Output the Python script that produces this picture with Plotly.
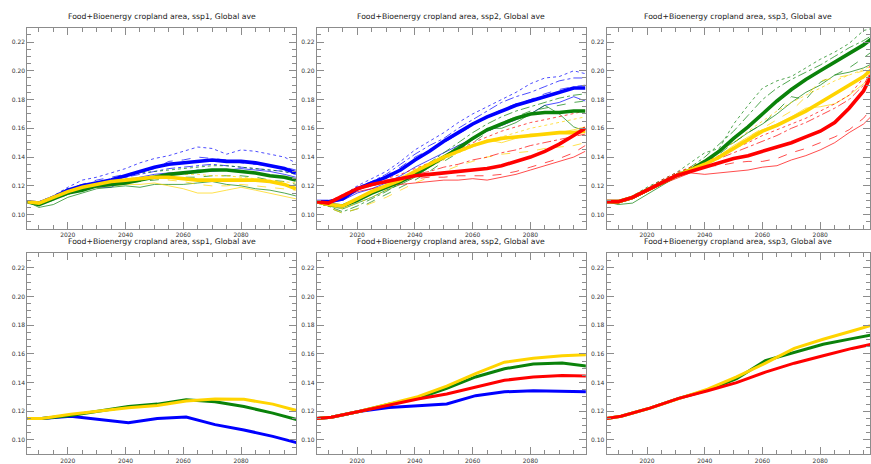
import plotly.graph_objects as go

# ---------------- data ----------------
YEARS = [2006, 2010, 2015, 2020, 2025, 2030, 2035, 2040, 2045, 2050,
         2055, 2060, 2065, 2070, 2075, 2080, 2085, 2090, 2095, 2099]
DECADES = [2006, 2011, 2021, 2031, 2041, 2051, 2061, 2071, 2081, 2091, 2101]

TITLES = ["Food+Bioenergy cropland area, ssp1, Global ave",
          "Food+Bioenergy cropland area, ssp2, Global ave",
          "Food+Bioenergy cropland area, ssp3, Global ave"]

# ssp1 ensemble (top row)
ssp1_blue_thick = [0.109, 0.108, 0.112, 0.117, 0.120, 0.122, 0.124, 0.127, 0.130, 0.133, 0.135, 0.136, 0.137, 0.138, 0.137, 0.137, 0.136, 0.134, 0.132, 0.129]
ssp1_blue_solid = [0.109, 0.108, 0.111, 0.116, 0.118, 0.119, 0.119, 0.124, 0.126, 0.128, 0.129, 0.129, 0.131, 0.130, 0.131, 0.132, 0.131, 0.130, 0.128, 0.126]
ssp1_blue_dash = [0.109, 0.108, 0.112, 0.118, 0.121, 0.124, 0.126, 0.128, 0.130, 0.132, 0.137, 0.138, 0.140, 0.139, 0.138, 0.136, 0.135, 0.134, 0.133, 0.131]
ssp1_blue_dashdot = [0.109, 0.108, 0.112, 0.117, 0.119, 0.121, 0.123, 0.126, 0.128, 0.130, 0.132, 0.133, 0.134, 0.135, 0.134, 0.133, 0.132, 0.131, 0.130, 0.128]
ssp1_blue_dot = [0.109, 0.109, 0.113, 0.119, 0.124, 0.126, 0.129, 0.132, 0.136, 0.139, 0.141, 0.144, 0.147, 0.146, 0.142, 0.145, 0.144, 0.142, 0.140, 0.136]
ssp1_green_thick = [0.109, 0.107, 0.111, 0.115, 0.117, 0.120, 0.121, 0.122, 0.124, 0.126, 0.128, 0.129, 0.130, 0.131, 0.131, 0.130, 0.129, 0.127, 0.126, 0.124]
ssp1_green_solid = [0.109, 0.105, 0.107, 0.112, 0.115, 0.118, 0.119, 0.120, 0.119, 0.121, 0.121, 0.121, 0.122, 0.123, 0.121, 0.120, 0.118, 0.117, 0.115, 0.113]
ssp1_green_dash = [0.109, 0.107, 0.110, 0.114, 0.117, 0.119, 0.121, 0.122, 0.123, 0.124, 0.125, 0.126, 0.126, 0.127, 0.127, 0.127, 0.126, 0.124, 0.123, 0.121]
ssp1_green_dot = [0.109, 0.108, 0.113, 0.118, 0.120, 0.122, 0.125, 0.127, 0.129, 0.130, 0.131, 0.132, 0.133, 0.134, 0.134, 0.133, 0.132, 0.131, 0.130, 0.128]
ssp1_yellow_thick = [0.109, 0.108, 0.112, 0.116, 0.119, 0.121, 0.123, 0.124, 0.125, 0.126, 0.126, 0.125, 0.124, 0.124, 0.124, 0.124, 0.124, 0.123, 0.121, 0.118]
ssp1_yellow_solid = [0.109, 0.108, 0.112, 0.116, 0.118, 0.119, 0.120, 0.121, 0.121, 0.122, 0.120, 0.118, 0.115, 0.115, 0.117, 0.119, 0.117, 0.115, 0.113, 0.111]
ssp1_yellow_dash = [0.109, 0.108, 0.112, 0.116, 0.119, 0.121, 0.122, 0.123, 0.124, 0.125, 0.124, 0.123, 0.121, 0.120, 0.120, 0.121, 0.120, 0.119, 0.118, 0.117]
ssp1_yellow_dot = [0.109, 0.108, 0.113, 0.117, 0.120, 0.122, 0.124, 0.125, 0.126, 0.127, 0.128, 0.128, 0.128, 0.127, 0.127, 0.126, 0.125, 0.124, 0.123, 0.122]

# ssp2 ensemble
ssp2_blue_thick = [0.109, 0.109, 0.111, 0.118, 0.122, 0.126, 0.131, 0.138, 0.144, 0.151, 0.157, 0.163, 0.168, 0.172, 0.176, 0.179, 0.182, 0.185, 0.188, 0.188]
ssp2_blue_solid = [0.109, 0.108, 0.110, 0.115, 0.118, 0.122, 0.127, 0.133, 0.138, 0.143, 0.148, 0.153, 0.158, 0.162, 0.166, 0.170, 0.176, 0.178, 0.182, 0.179]
ssp2_blue_dash = [0.109, 0.109, 0.112, 0.118, 0.122, 0.127, 0.133, 0.140, 0.145, 0.150, 0.156, 0.162, 0.168, 0.173, 0.177, 0.180, 0.184, 0.187, 0.189, 0.190]
ssp2_blue_dashdot = [0.109, 0.109, 0.112, 0.119, 0.123, 0.128, 0.135, 0.142, 0.148, 0.153, 0.160, 0.166, 0.172, 0.178, 0.182, 0.185, 0.189, 0.193, 0.195, 0.195]
ssp2_blue_dot = [0.109, 0.109, 0.113, 0.120, 0.125, 0.130, 0.137, 0.145, 0.151, 0.157, 0.164, 0.170, 0.175, 0.180, 0.185, 0.191, 0.195, 0.196, 0.200, 0.198]
ssp2_green_thick = [0.109, 0.107, 0.106, 0.110, 0.115, 0.119, 0.123, 0.128, 0.134, 0.140, 0.146, 0.153, 0.159, 0.163, 0.167, 0.170, 0.171, 0.171, 0.172, 0.172]
ssp2_green_solid = [0.109, 0.106, 0.104, 0.108, 0.112, 0.117, 0.121, 0.126, 0.133, 0.140, 0.148, 0.152, 0.160, 0.160, 0.164, 0.170, 0.176, 0.170, 0.161, 0.158]
ssp2_green_dash = [0.109, 0.105, 0.101, 0.104, 0.109, 0.114, 0.119, 0.124, 0.130, 0.137, 0.143, 0.150, 0.157, 0.164, 0.168, 0.172, 0.174, 0.176, 0.178, 0.179]
ssp2_green_dashdot = [0.109, 0.106, 0.102, 0.106, 0.111, 0.116, 0.122, 0.129, 0.136, 0.143, 0.150, 0.157, 0.163, 0.168, 0.172, 0.175, 0.178, 0.181, 0.183, 0.184]
ssp2_yellow_thick = [0.109, 0.107, 0.106, 0.111, 0.116, 0.120, 0.124, 0.130, 0.135, 0.140, 0.144, 0.148, 0.151, 0.153, 0.154, 0.155, 0.156, 0.157, 0.157, 0.158]
ssp2_yellow_solid = [0.109, 0.107, 0.107, 0.112, 0.117, 0.121, 0.126, 0.131, 0.136, 0.141, 0.145, 0.148, 0.152, 0.150, 0.153, 0.156, 0.156, 0.157, 0.159, 0.161]
ssp2_yellow_dash = [0.109, 0.105, 0.101, 0.104, 0.108, 0.112, 0.117, 0.122, 0.126, 0.130, 0.134, 0.137, 0.140, 0.142, 0.143, 0.144, 0.146, 0.147, 0.148, 0.150]
ssp2_yellow_dot = [0.109, 0.106, 0.104, 0.108, 0.112, 0.117, 0.122, 0.127, 0.133, 0.138, 0.143, 0.147, 0.151, 0.154, 0.157, 0.160, 0.162, 0.164, 0.166, 0.168]
ssp2_red_thick = [0.109, 0.108, 0.113, 0.118, 0.121, 0.123, 0.125, 0.127, 0.128, 0.129, 0.130, 0.131, 0.132, 0.134, 0.137, 0.140, 0.144, 0.149, 0.155, 0.160]
ssp2_red_solid = [0.109, 0.108, 0.112, 0.116, 0.118, 0.120, 0.121, 0.122, 0.123, 0.124, 0.124, 0.125, 0.124, 0.126, 0.128, 0.131, 0.134, 0.137, 0.140, 0.144]
ssp2_red_dash = [0.109, 0.108, 0.112, 0.117, 0.120, 0.122, 0.124, 0.125, 0.126, 0.126, 0.127, 0.127, 0.127, 0.128, 0.130, 0.133, 0.136, 0.139, 0.143, 0.148]
ssp2_red_dashdot = [0.109, 0.109, 0.113, 0.118, 0.121, 0.124, 0.126, 0.128, 0.130, 0.133, 0.135, 0.138, 0.140, 0.143, 0.145, 0.148, 0.150, 0.152, 0.154, 0.156]
ssp2_red_dot = [0.109, 0.109, 0.114, 0.119, 0.122, 0.125, 0.128, 0.132, 0.136, 0.140, 0.145, 0.150, 0.154, 0.158, 0.161, 0.164, 0.166, 0.168, 0.170, 0.172]

# ssp3 ensemble
ssp3_red_thick = [0.109, 0.109, 0.112, 0.117, 0.122, 0.127, 0.130, 0.133, 0.136, 0.139, 0.141, 0.144, 0.147, 0.150, 0.154, 0.158, 0.164, 0.174, 0.186, 0.202]
ssp3_red_solid = [0.109, 0.108, 0.111, 0.116, 0.121, 0.125, 0.129, 0.128, 0.129, 0.130, 0.131, 0.133, 0.134, 0.138, 0.141, 0.145, 0.150, 0.157, 0.163, 0.171]
ssp3_red_dash = [0.109, 0.109, 0.112, 0.117, 0.122, 0.127, 0.131, 0.134, 0.134, 0.136, 0.137, 0.137, 0.139, 0.143, 0.146, 0.150, 0.154, 0.159, 0.167, 0.177]
ssp3_red_dashdot = [0.109, 0.109, 0.112, 0.118, 0.123, 0.128, 0.132, 0.135, 0.139, 0.143, 0.147, 0.151, 0.155, 0.160, 0.164, 0.169, 0.174, 0.180, 0.190, 0.205]
ssp3_red_dot = [0.109, 0.109, 0.113, 0.118, 0.124, 0.129, 0.133, 0.137, 0.141, 0.146, 0.150, 0.155, 0.159, 0.163, 0.167, 0.172, 0.177, 0.183, 0.195, 0.210]
ssp3_green_thick = [0.109, 0.109, 0.112, 0.117, 0.122, 0.127, 0.131, 0.137, 0.144, 0.153, 0.161, 0.170, 0.179, 0.187, 0.194, 0.200, 0.206, 0.212, 0.218, 0.224]
ssp3_green_solid = [0.109, 0.107, 0.108, 0.114, 0.120, 0.126, 0.131, 0.137, 0.145, 0.150, 0.157, 0.163, 0.170, 0.178, 0.185, 0.190, 0.197, 0.199, 0.202, 0.206]
ssp3_green_dash = [0.109, 0.108, 0.111, 0.116, 0.121, 0.126, 0.130, 0.135, 0.142, 0.150, 0.157, 0.163, 0.172, 0.182, 0.180, 0.192, 0.197, 0.202, 0.209, 0.215]
ssp3_green_dashdot = [0.109, 0.109, 0.112, 0.118, 0.123, 0.128, 0.133, 0.140, 0.149, 0.158, 0.169, 0.180, 0.188, 0.194, 0.199, 0.204, 0.210, 0.216, 0.221, 0.226]
ssp3_green_dot = [0.109, 0.109, 0.113, 0.119, 0.124, 0.129, 0.136, 0.143, 0.146, 0.163, 0.176, 0.188, 0.193, 0.196, 0.202, 0.208, 0.213, 0.219, 0.228, 0.230]
ssp3_yellow_thick = [0.109, 0.109, 0.112, 0.117, 0.122, 0.127, 0.131, 0.135, 0.140, 0.146, 0.152, 0.158, 0.162, 0.167, 0.172, 0.178, 0.184, 0.190, 0.196, 0.203]
ssp3_yellow_solid = [0.109, 0.108, 0.111, 0.116, 0.121, 0.126, 0.130, 0.134, 0.141, 0.148, 0.154, 0.159, 0.163, 0.168, 0.174, 0.175, 0.177, 0.183, 0.191, 0.198]
ssp3_yellow_dash = [0.109, 0.108, 0.112, 0.117, 0.122, 0.127, 0.131, 0.135, 0.141, 0.147, 0.154, 0.160, 0.166, 0.172, 0.182, 0.193, 0.195, 0.197, 0.200, 0.203]
ssp3_yellow_dot = [0.109, 0.109, 0.113, 0.118, 0.123, 0.128, 0.133, 0.138, 0.144, 0.150, 0.158, 0.165, 0.172, 0.178, 0.183, 0.188, 0.193, 0.197, 0.201, 0.205]

# decadal model output (bottom row)
dec_ssp1_blue = [0.115, 0.115, 0.1165, 0.114, 0.112, 0.115, 0.116, 0.1107, 0.107, 0.1025, 0.0972]
dec_ssp1_green = [0.115, 0.115, 0.117, 0.120, 0.1233, 0.125, 0.128, 0.1267, 0.1233, 0.1187, 0.1133]
dec_ssp1_yellow = [0.115, 0.115, 0.118, 0.1203, 0.1224, 0.124, 0.1272, 0.1286, 0.1283, 0.125, 0.1196]
dec_ssp2_blue = [0.115, 0.1158, 0.120, 0.1226, 0.1238, 0.1251, 0.1309, 0.1336, 0.1343, 0.134, 0.1335]
dec_ssp2_green = [0.115, 0.1158, 0.120, 0.1250, 0.129, 0.1359, 0.1439, 0.1496, 0.153, 0.1537, 0.1510]
dec_ssp2_yellow = [0.115, 0.1158, 0.120, 0.1250, 0.1302, 0.1375, 0.1462, 0.1542, 0.1569, 0.1587, 0.1595]
dec_ssp2_red = [0.115, 0.1158, 0.120, 0.1245, 0.1286, 0.132, 0.1366, 0.1416, 0.1439, 0.145, 0.1445]
dec_ssp3_green = [0.115, 0.1165, 0.1222, 0.129, 0.1347, 0.1427, 0.1553, 0.161, 0.1667, 0.1706, 0.1745]
dec_ssp3_yellow = [0.115, 0.1165, 0.1222, 0.129, 0.1354, 0.1439, 0.1535, 0.1638, 0.1702, 0.1759, 0.1818]
dec_ssp3_red = [0.115, 0.1165, 0.1222, 0.129, 0.1343, 0.140, 0.1473, 0.1535, 0.1587, 0.1638, 0.1680]

# ---------------- styling ----------------
COL = {"blue": "#0000ff", "green": "#0a820a", "yellow": "#ffd400", "red": "#ff0000"}
W, H = 871, 464
FONT = "DejaVu Sans"
FRAME = "#8c8c8c"

# panel pixel geometry (left, right, top, bottom)
cols_px = [(27.4, 296.8), (317.2, 586.5), (607.3, 871.0)]
rows_px = [(28.0, 232.0), (256.7, 460.3)]
PX_PER_YEAR = (296.8 - 27.4) / 93.2
x_ranges = [[2006, 2099.2], [2006, 2099.2], [2006, 2006 + (871.0 - 607.3) / PX_PER_YEAR]]

fig = go.Figure()

top_sets = [
    [("blue", [ssp1_blue_solid, ssp1_blue_dash, ssp1_blue_dashdot, ssp1_blue_dot], ssp1_blue_thick),
     ("green", [ssp1_green_solid, ssp1_green_dash, None, ssp1_green_dot], ssp1_green_thick),
     ("yellow", [ssp1_yellow_solid, ssp1_yellow_dash, None, ssp1_yellow_dot], ssp1_yellow_thick)],
    [("blue", [ssp2_blue_solid, ssp2_blue_dash, ssp2_blue_dashdot, ssp2_blue_dot], ssp2_blue_thick),
     ("green", [ssp2_green_solid, ssp2_green_dash, ssp2_green_dashdot, None], ssp2_green_thick),
     ("yellow", [ssp2_yellow_solid, ssp2_yellow_dash, None, ssp2_yellow_dot], ssp2_yellow_thick),
     ("red", [ssp2_red_solid, ssp2_red_dash, ssp2_red_dashdot, ssp2_red_dot], ssp2_red_thick)],
    [("green", [ssp3_green_solid, ssp3_green_dash, ssp3_green_dashdot, ssp3_green_dot], ssp3_green_thick),
     ("yellow", [ssp3_yellow_solid, ssp3_yellow_dash, None, ssp3_yellow_dot], ssp3_yellow_thick),
     ("red", [ssp3_red_solid, ssp3_red_dash, ssp3_red_dashdot, ssp3_red_dot], ssp3_red_thick)],
]
bottom_sets = [
    [("blue", dec_ssp1_blue), ("green", dec_ssp1_green), ("yellow", dec_ssp1_yellow)],
    [("blue", dec_ssp2_blue), ("green", dec_ssp2_green), ("yellow", dec_ssp2_yellow), ("red", dec_ssp2_red)],
    [("green", dec_ssp3_green), ("yellow", dec_ssp3_yellow), ("red", dec_ssp3_red)],
]
DASHES = ["solid", "dash", "dashdot", "dot"]

def axis_names(idx):
    n = "" if idx == 1 else str(idx)
    return "x" + n, "y" + n

# top row: thin members first, then thick means
for c in range(3):
    xa, ya = axis_names(c + 1)
    for color, members, thick in top_sets[c]:
        for dash, vals in zip(DASHES, members):
            if vals is None:
                continue
            fig.add_trace(go.Scatter(x=YEARS, y=vals, mode="lines", xaxis=xa, yaxis=ya,
                                     line=dict(color=COL[color], width=1, dash=dash),
                                     opacity=0.7, showlegend=False, hoverinfo="skip"))
    for color, members, thick in top_sets[c]:
        fig.add_trace(go.Scatter(x=YEARS, y=thick, mode="lines", xaxis=xa, yaxis=ya,
                                 line=dict(color=COL[color], width=3.6),
                                 showlegend=False, hoverinfo="skip"))

for c in range(3):
    xa, ya = axis_names(c + 4)
    for color, vals in bottom_sets[c]:
        fig.add_trace(go.Scatter(x=DECADES, y=vals, mode="lines", xaxis=xa, yaxis=ya,
                                 line=dict(color=COL[color], width=3),
                                 showlegend=False, hoverinfo="skip"))

layout = dict(width=W, height=H, margin=dict(l=0, r=0, t=0, b=0),
              paper_bgcolor="white", plot_bgcolor="white", showlegend=False,
              font=dict(family=FONT, color="#333333"))

annotations = []
for r in range(2):
    for c in range(3):
        idx = r * 3 + c + 1
        n = "" if idx == 1 else str(idx)
        l, rr = cols_px[c]
        t, b = rows_px[r]
        layout["xaxis" + n] = dict(
            domain=[l / W, rr / W], range=x_ranges[c], anchor="y" + n,
            tickvals=[2020, 2040, 2060, 2080], ticks="inside", ticklen=7, tickwidth=1,
            tickcolor=FRAME, showline=True, linecolor=FRAME, linewidth=1,
            mirror="allticks", showgrid=False, zeroline=False,
            tickfont=dict(size=6, family=FONT, color="#333333"),
            minor=dict(dtick=5, tick0=2005, ticks="inside", ticklen=4, tickcolor=FRAME, showgrid=False),
        )
        layout["yaxis" + n] = dict(
            domain=[1 - b / H, 1 - t / H], range=[0.09, 0.23], anchor="x" + n,
            tickvals=[0.10, 0.12, 0.14, 0.16, 0.18, 0.20, 0.22], tickformat=".2f",
            ticks="inside", ticklen=7, tickwidth=1, tickcolor=FRAME,
            showline=True, linecolor=FRAME, linewidth=1, mirror="allticks",
            showgrid=False, zeroline=False,
            tickfont=dict(size=6, family=FONT, color="#333333"),
            minor=dict(dtick=0.005, tick0=0.0, ticks="inside", ticklen=4, tickcolor=FRAME, showgrid=False),
        )
        title_y = (17.0 if r == 0 else 245.0)
        annotations.append(dict(text=TITLES[c], x=(l + min(rr, l + 269.4)) / 2 / W, y=1 - title_y / H,
                                xref="paper", yref="paper", xanchor="center", yanchor="middle",
                                showarrow=False, font=dict(size=7.7, family=FONT, color="#222222")))
layout["annotations"] = annotations
fig.update_layout(**layout)

fig.write_html("out.html",
               config={"displayModeBar": False, "staticPlot": True},
               post_script="document.body.style.margin='0';document.body.style.overflow='hidden';"
                           "document.documentElement.style.overflow='hidden';")
